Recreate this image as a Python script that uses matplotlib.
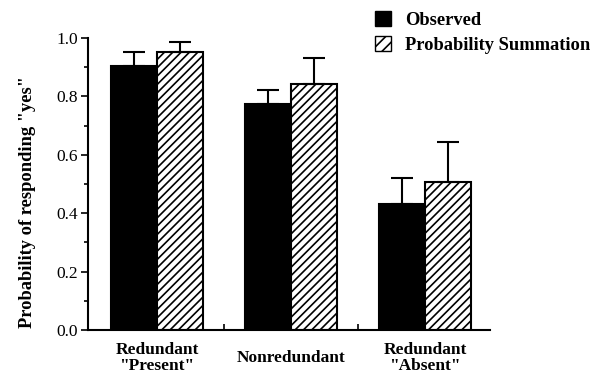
import numpy as np
import matplotlib.pyplot as plt
from matplotlib.patches import Patch
from matplotlib.ticker import MultipleLocator, FixedLocator, FormatStrFormatter

plt.rcParams['font.family'] = ['Liberation Serif', 'DejaVu Serif']
plt.rcParams['hatch.linewidth'] = 1.2

conditions = ['Redundant\n"Present"', 'Nonredundant', 'Redundant\n"Absent"']
observed = [0.905, 0.775, 0.432]
observed_err = [0.046, 0.047, 0.088]
summation = [0.951, 0.841, 0.506]
summation_err = [0.034, 0.091, 0.139]

fig = plt.figure(figsize=(6.02, 3.73), dpi=100)
ax = fig.add_axes([0.146, 0.115, 0.668, 0.783])

x = np.arange(len(conditions))
w = 0.345
ax.bar(x - w / 2, observed, w, color='black', edgecolor='black', linewidth=1.5,
       yerr=[np.zeros(3), observed_err], capsize=8,
       error_kw=dict(elinewidth=1.5, capthick=1.5, ecolor='black'))
ax.bar(x + w / 2, summation, w, color='white', edgecolor='black', linewidth=1.5,
       hatch='////', yerr=[np.zeros(3), summation_err], capsize=8,
       error_kw=dict(elinewidth=1.5, capthick=1.5, ecolor='black'))

ax.set_xlim(-0.515, 2.485)
ax.set_ylim(0, 1.0)
for s in ['top', 'right']:
    ax.spines[s].set_visible(False)
ax.spines['left'].set_linewidth(1.5)
ax.spines['bottom'].set_linewidth(1.5)

# category names centred vertically below the axis
ax.set_xticks(x)
ax.set_xticklabels(conditions, fontweight='bold', fontsize=12.5, linespacing=1.0,
                   va='center')
ax.tick_params(axis='x', length=0, pad=20)
ax.xaxis.set_minor_locator(FixedLocator([0.5, 1.5]))
ax.tick_params(axis='x', which='minor', direction='in', length=4, width=1.2)

ax.yaxis.set_major_locator(MultipleLocator(0.2))
ax.yaxis.set_minor_locator(MultipleLocator(0.1))
ax.yaxis.set_major_formatter(FormatStrFormatter('%.1f'))
ax.tick_params(axis='y', which='major', length=5, width=1.2, labelsize=12.5, pad=2)
ax.tick_params(axis='y', which='minor', length=3, width=1.2)
ax.set_ylabel('Probability of responding "yes"', fontweight='bold', fontsize=13.3)
ax.yaxis.set_label_coords(-0.128, 0.44)

handles = [Patch(facecolor='black', edgecolor='black'),
           Patch(facecolor='white', edgecolor='black', hatch='///')]
fig.legend(handles, ['Observed', 'Probability Summation'], loc='upper left',
           bbox_to_anchor=(0.595, 1.015), frameon=False, handlelength=0.9,
           handleheight=0.9, handletextpad=0.72, labelspacing=0.38,
           prop=dict(weight='bold', size=13.3))

fig.savefig('out.png', dpi=100)
